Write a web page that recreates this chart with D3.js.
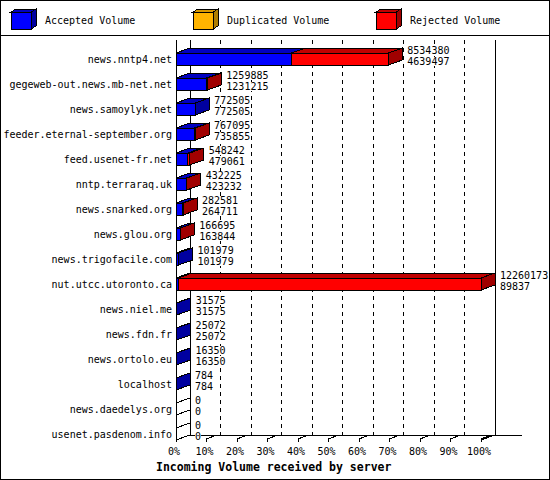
<!DOCTYPE html>
<html>
<head>
<meta charset="utf-8">
<script src="https://cdn.jsdelivr.net/npm/d3@7"></script>
<style>
  body { margin: 0; background: #fff; }
  text { font-family: "DejaVu Sans Mono", monospace; font-size: 10px; fill: #000; }
  .title { font-weight: bold; font-size: 11.5px; }
</style>
</head>
<body>
<div id="chart"></div>
<script>
// data
var servers = ["news.nntp4.net", "gegeweb-out.news.mb-net.net", "news.samoylyk.net",
  "feeder.eternal-september.org", "feed.usenet-fr.net", "nntp.terraraq.uk",
  "news.snarked.org", "news.glou.org", "news.trigofacile.com", "nut.utcc.utoronto.ca",
  "news.niel.me", "news.fdn.fr", "news.ortolo.eu", "localhost", "news.daedelys.org",
  "usenet.pasdenom.info"];
var totalVolume = [8534380, 1259885, 772505, 767095, 548242, 432225, 282581, 166695,
  101979, 12260173, 31575, 25072, 16350, 784, 0, 0];
var acceptedVolume = [4639497, 1231215, 772505, 735855, 479061, 423232, 264711, 163844,
  101979, 89837, 31575, 25072, 16350, 784, 0, 0];
var legendLabels = ["Accepted Volume", "Duplicated Volume", "Rejected Volume"];
var pctTicks = [0, 10, 20, 30, 40, 50, 60, 70, 80, 90, 100];

var svgWidth = 550;
var svgHeight = 480;

// 3d depth offsets
var DX = 14, DY = -5;
var half = 6;

var colors = {
  accepted: { front: "#0000ff", top: "#0000c0", side: "#0000a0" },
  duplicated: { front: "#ffb400", top: "#d89800", side: "#b07e00" },
  rejected: { front: "#ff0000", top: "#c00000", side: "#a00000" }
};
var legendColors = [colors.accepted, colors.duplicated, colors.rejected];

var svg = d3.select("#chart")
  .append("svg")
  .attr("width", svgWidth)
  .attr("height", svgHeight);

var x = d3.scaleLinear()
  .domain([0, d3.max(totalVolume)])
  .range([176, 481]);

var pct = d3.scaleLinear()
  .domain([0, 100])
  .range([176, 481]);

var y = d3.scalePoint()
  .domain(servers)
  .range([59, 434]);

var floorY = 440;
var topY = 40;

function poly(pts) {
  return "M" + pts.map(p => p.join(",")).join("L") + "Z";
}

function drawLine(g, x1, y1, x2, y2, dash) {
  var l = g.append("line")
    .attr("x1", x1).attr("y1", y1)
    .attr("x2", x2).attr("y2", y2)
    .attr("stroke", "#000")
    .attr("stroke-width", 1)
    .attr("shape-rendering", "crispEdges");
  if (dash) l.attr("stroke-dasharray", dash);
  return l;
}

// frame
svg.append("rect")
  .attr("x", 0.5).attr("y", 0.5)
  .attr("width", svgWidth - 1).attr("height", svgHeight - 1)
  .attr("fill", "none").attr("stroke", "#000")
  .attr("shape-rendering", "crispEdges");
drawLine(svg, 0, 35.5, svgWidth, 35.5);

// legend
var legend = svg.append("g");
var legendX = [11, 193, 376];
legendLabels.forEach(function(lab, i) {
  var lx = legendX[i], ly = 12, w = 20, h = 17, dx = 5, dy = -3;
  var c = legendColors[i];
  legend.append("path")
    .attr("d", poly([[lx, ly], [lx + w, ly], [lx + w + dx, ly + dy], [lx + dx, ly + dy]]))
    .attr("fill", c.top).attr("stroke", "#000").attr("shape-rendering", "crispEdges");
  legend.append("path")
    .attr("d", poly([[lx + w, ly], [lx + w, ly + h], [lx + w + dx, ly + h + dy], [lx + w + dx, ly + dy]]))
    .attr("fill", c.side).attr("stroke", "#000").attr("shape-rendering", "crispEdges");
  legend.append("rect")
    .attr("x", lx).attr("y", ly).attr("width", w).attr("height", h)
    .attr("fill", c.front).attr("stroke", "#000").attr("shape-rendering", "crispEdges");
  legend.append("text")
    .attr("x", lx + 34)
    .attr("y", 24)
    .text(lab);
});

var chartGroup = svg.append("g");

// back wall grid
pctTicks.forEach(function(t) {
  var bx = pct(t) + DX;
  if (t === 0 || t === 100) {
    drawLine(chartGroup, bx, topY, bx, floorY + DY);
  } else {
    drawLine(chartGroup, bx, topY, bx, floorY + DY, "4,4");
  }
});

// front left axis and floor
drawLine(chartGroup, pct(0), topY, pct(0), floorY);
drawLine(chartGroup, pct(0), floorY, pct(0) + DX, floorY + DY);
drawLine(chartGroup, pct(100), floorY, pct(100) + DX, floorY + DY);
drawLine(chartGroup, pct(0) + DX, floorY + DY, 522, floorY + DY);

// x ticks and labels
pctTicks.forEach(function(t) {
  var fx = pct(t);
  drawLine(chartGroup, fx, floorY - 1, fx, floorY + 2);
  if (t > 0) {
    drawLine(chartGroup, fx, floorY - 1, fx + 10, floorY + DY);
  }
  chartGroup.append("text")
    .attr("x", fx - 2)
    .attr("y", 455)
    .attr("text-anchor", "middle")
    .text(t + "%");
});

chartGroup.append("text")
  .attr("class", "title")
  .attr("x", 156)
  .attr("y", 471)
  .text("Incoming Volume received by server");

// server names
chartGroup.selectAll(".server")
  .data(servers)
  .enter()
  .append("text")
  .attr("class", "server")
  .attr("x", 172)
  .attr("y", d => y(d) + 4)
  .attr("text-anchor", "end")
  .text(d => d);

// bars
function drawSegment(g, x0, x1, cy, c) {
  g.append("path")
    .attr("d", poly([[x0, cy - half], [x1, cy - half], [x1 + DX, cy - half + DY], [x0 + DX, cy - half + DY]]))
    .attr("fill", c.top).attr("stroke", "#000").attr("shape-rendering", "crispEdges");
  g.append("rect")
    .attr("x", x0).attr("y", cy - half)
    .attr("width", x1 - x0).attr("height", half * 2)
    .attr("fill", c.front).attr("stroke", "#000").attr("shape-rendering", "crispEdges");
}

// value label with a white box behind it, so grid lines do not run through
function valueLabel(g, lx, ly, val) {
  var bg = g.append("rect").attr("fill", "#fff");
  var t = g.append("text").attr("x", lx).attr("y", ly).text(val);
  var w = t.node().getComputedTextLength();
  bg.attr("x", lx).attr("y", ly - 8).attr("width", w).attr("height", 9);
}

servers.forEach(function(s, i) {
  var g = chartGroup.append("g");
  var cy = y(s);
  var x0 = x(0), xa = x(acceptedVolume[i]), xt = x(totalVolume[i]);
  if (acceptedVolume[i] > 0) drawSegment(g, x0, xa, cy, colors.accepted);
  if (totalVolume[i] > acceptedVolume[i]) drawSegment(g, xa, xt, cy, colors.rejected);
  var sideCol = totalVolume[i] === 0 ? "#fff"
    : (totalVolume[i] > acceptedVolume[i] ? colors.rejected.side : colors.accepted.side);
  g.append("path")
    .attr("d", poly([[xt, cy - half], [xt, cy + half], [xt + DX, cy + half + DY], [xt + DX, cy - half + DY]]))
    .attr("fill", sideCol).attr("stroke", "#000").attr("shape-rendering", "crispEdges");

  valueLabel(g, xt + DX + 5, cy - 5, totalVolume[i]);
  valueLabel(g, xt + DX + 5, cy + 6, acceptedVolume[i]);
});
</script>
</body>
</html>
